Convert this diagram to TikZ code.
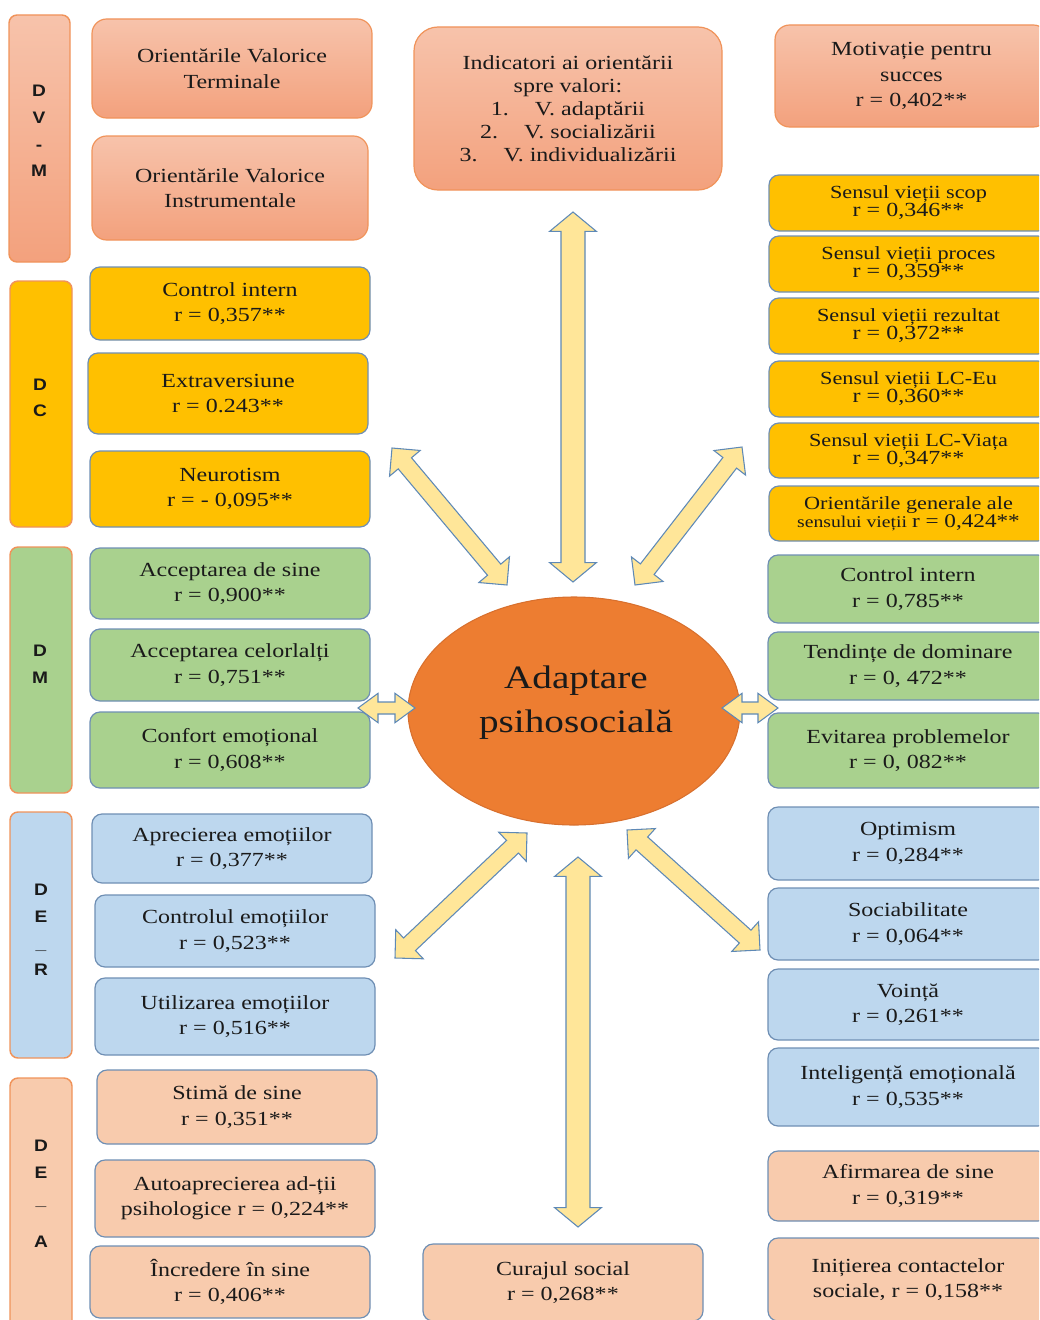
\documentclass[tikz,border=0pt]{standalone}
\usepackage{fontspec}
\setmainfont{Liberation Serif}[FakeStretch=1.2]
\newfontfamily\lblfont{Liberation Sans}[FakeStretch=1.15]
\usetikzlibrary{shapes.geometric,calc}

\definecolor{salmonT}{HTML}{F7C3AB}
\definecolor{salmonB}{HTML}{F3A17D}
\definecolor{orangeline}{HTML}{F0935A}
\definecolor{gold}{HTML}{FFC000}
\definecolor{leaf}{HTML}{A9D18E}
\definecolor{sky}{HTML}{BDD7EE}
\definecolor{peach}{HTML}{F8CBAD}
\definecolor{steel}{HTML}{6F8FB4}
\definecolor{arrowfill}{HTML}{FFE699}
\definecolor{arrowline}{HTML}{5E89B6}
\definecolor{corefill}{HTML}{ED7D31}
\definecolor{coreline}{HTML}{D8702E}
\definecolor{ink}{HTML}{1A1A1A}

% rectangle node given by its corners (in px units) and its text
\newcommand\bx[7]{%
  \node[#2, minimum width={(#5-#3)*0.75pt}, minimum height={(#6-#4)*0.75pt}]
    (#1) at ({(#3+#5)/2},{(#4+#6)/2}) {#7};}

% two-headed block arrow between two named coordinates:
% #3 half shaft width, #4 half head width, #5 head length
\newcommand\dblarrow[5]{%
  \coordinate (h1) at ($(#1)!#5!(#2)$);
  \coordinate (h2) at ($(#2)!#5!(#1)$);
  \draw[blockarrow] (#1) -- ($(h1)!#4!90:(#2)$) -- ($(h1)!#3!90:(#2)$)
    -- ($(h2)!#3!-90:(#1)$) -- ($(h2)!#4!-90:(#1)$) -- (#2)
    -- ($(h2)!#4!90:(#1)$) -- ($(h2)!#3!90:(#1)$)
    -- ($(h1)!#3!-90:(#2)$) -- ($(h1)!#4!-90:(#2)$) -- cycle;}

\newcommand\rbig{\fontsize{15}{13.5}\selectfont}

\tikzset{
  cell/.style={draw=steel, line width=0.9pt, rounded corners=7.5pt, align=center,
    inner sep=0pt, text=ink, font=\fontsize{15}{19}\selectfont},
  salmonbox/.style={cell, draw=orangeline, top color=salmonT, bottom color=salmonB, rounded corners=11pt},
  goldbox/.style={cell, fill=gold},
  goldright/.style={cell, fill=gold, font=\fontsize{13.9}{13.5}\selectfont},
  leafbox/.style={cell, fill=leaf},
  skybox/.style={cell, fill=sky},
  peachbox/.style={cell, fill=peach},
  sidebar/.style={draw=orangeline, line width=1.1pt, rounded corners=6pt, inner sep=0pt},
  sidetext/.style={font=\lblfont\bfseries\fontsize{12.5}{20}\selectfont, align=center,
    text=ink, inner sep=0pt},
  blockarrow/.style={fill=arrowfill, draw=arrowline, line width=0.8pt, line join=miter},
}

\begin{document}
\begin{tikzpicture}[x=0.75pt, y=-0.75pt]
\useasboundingbox (0,0) rectangle (1039,1320);
\clip (0,0) rectangle (1039,1320);

% ---------- side bars with group letters ----------
\bx{dvm}{sidebar, top color=salmonT, bottom color=salmonB}{9}{15}{70}{262}{}
\bx{dc}{sidebar, fill=gold}{10}{281}{72}{527}{}
\bx{dm}{sidebar, fill=leaf}{10}{547}{72}{793}{}
\bx{der}{sidebar, fill=sky}{10}{812}{72}{1058}{}
\bx{dea}{sidebar, fill=peach}{10}{1078}{72}{1345}{}

\node[sidetext] (dvm-t) at (39,131) {D\\V\\-\\M};
\node[sidetext] (dc-t) at (40,398) {D\\C};
\node[sidetext] (dm-t) at (40,664) {D\\M};
\node[sidetext] (der-t) at (41,930) {D\\E\\\_\\R};
\node[sidetext] (dea-t) at (41,1194) {D\\E\\\_\\[12pt]A};

% ---------- left column ----------
\bx{ovt}{salmonbox}{92}{19}{372}{118}{Orientările Valorice\\Terminale}
\bx{ovi}{salmonbox}{92}{136}{368}{240}{Orientările Valorice\\Instrumentale}
\bx{ci}{goldbox}{90}{267}{370}{340}{Control intern\\r = 0,357**}
\bx{ex}{goldbox}{88}{353}{368}{434}{Extraversiune\\r = 0.243**}
\bx{ne}{goldbox}{90}{451}{370}{527}{Neurotism\\r = - 0,095**}
\bx{as}{leafbox}{90}{548}{370}{619}{Acceptarea de sine\\r = 0,900**}
\bx{ac}{leafbox}{90}{629}{370}{701}{Acceptarea celorlalți\\r = 0,751**}
\bx{ce}{leafbox}{90}{712}{370}{788}{Confort emoțional\\r = 0,608**}
\bx{ae}{skybox}{92}{814}{372}{883}{Aprecierea emoțiilor\\r = 0,377**}
\bx{cte}{skybox}{95}{895}{375}{967}{Controlul emoțiilor\\r = 0,523**}
\bx{ue}{skybox}{95}{978}{375}{1055}{Utilizarea emoțiilor\\r = 0,516**}
\bx{ss}{peachbox}{97}{1070}{377}{1144}{Stimă de sine\\r = 0,351**}
\bx{aa}{peachbox}{95}{1160}{375}{1237}{Autoaprecierea ad-ții\\psihologice r = 0,224**}
\bx{is}{peachbox}{90}{1246}{370}{1318}{Încredere în sine\\r = 0,406**}

% ---------- middle column ----------
\bx{ind}{salmonbox, rounded corners=18pt, font=\fontsize{15}{17.3}\selectfont}{414}{27}{722}{190}
  {Indicatori ai orientării\\spre valori:\\1.\hspace{1.3em}V. adaptării\\2.\hspace{1.3em}V. socializării\\3.\hspace{1.3em}V. individualizării}
\bx{cs}{peachbox}{423}{1244}{703}{1321}{Curajul social\\r = 0,268**}

\node[ellipse, fill=corefill, draw=coreline, line width=0.8pt,
      minimum width={332*0.75pt}, minimum height={228*0.75pt}, inner sep=0pt] (core) at (574,711) {};
\node[align=center, text=ink, font=\fontsize{24.5}{33}\selectfont] (core-t) at (576,703) {Adaptare\\psihosocială};

% ---------- right column ----------
\bx{mot}{salmonbox}{775}{25}{1048}{127}{Motivație pentru\\succes\\r = 0,402**}
\bx{s1}{goldright}{769}{175}{1048}{231}{Sensul vieții scop\\{\rbig r = 0,346**}}
\bx{s2}{goldright}{769}{236}{1048}{292}{Sensul vieții proces\\{\rbig r = 0,359**}}
\bx{s3}{goldright}{769}{298}{1048}{354}{Sensul vieții rezultat\\{\rbig r = 0,372**}}
\bx{s4}{goldright}{769}{361}{1048}{417}{Sensul vieții LC-Eu\\{\rbig r = 0,360**}}
\bx{s5}{goldright}{769}{423}{1048}{478}{Sensul vieții LC-Viața\\{\rbig r = 0,347**}}
\bx{s6}{goldright}{769}{486}{1048}{541}{Orientările generale ale\\{\fontsize{12.3}{13.5}\selectfont sensului vieții }{\fontsize{14.5}{13.5}\selectfont r = 0,424**}}
\bx{g1}{leafbox}{768}{555}{1048}{623}{Control intern\\r = 0,785**}
\bx{g2}{leafbox}{768}{632}{1048}{700}{Tendințe de dominare\\r = 0, 472**}
\bx{g3}{leafbox}{768}{713}{1048}{788}{Evitarea problemelor\\r = 0, 082**}
\bx{b1}{skybox}{768}{807}{1048}{880}{Optimism\\r = 0,284**}
\bx{b2}{skybox}{768}{888}{1048}{960}{Sociabilitate\\r = 0,064**}
\bx{b3}{skybox}{768}{969}{1048}{1040}{Voință\\r = 0,261**}
\bx{b4}{skybox}{768}{1048}{1048}{1126}{Inteligență emoțională\\r = 0,535**}
\bx{p1}{peachbox}{768}{1151}{1048}{1221}{Afirmarea de sine\\r = 0,319**}
\bx{p2}{peachbox}{768}{1238}{1048}{1321}{Inițierea contactelor\\sociale, r = 0,158**}

% ---------- arrow end points ----------
\coordinate (tv-a) at (573,212);  \coordinate (tv-b) at (573,582);
\coordinate (tl-a) at (392,448);  \coordinate (tl-b) at (507,585);
\coordinate (tr-a) at (742,447);  \coordinate (tr-b) at (635,585);
\coordinate (lh-a) at (358,708);  \coordinate (lh-b) at (415,708);
\coordinate (rh-a) at (722,708);  \coordinate (rh-b) at (778,708);
\coordinate (bl-a) at (395,958);  \coordinate (bl-b) at (527,833);
\coordinate (br-a) at (627,830);  \coordinate (br-b) at (760,950);
\coordinate (bv-a) at (578,857);  \coordinate (bv-b) at (578,1227);

% ---------- block arrows ----------
\dblarrow{tv-a}{tv-b}{9pt}{17.5pt}{14.5pt}
\dblarrow{bv-a}{bv-b}{9pt}{17.5pt}{14.5pt}
\dblarrow{tl-a}{tl-b}{6.5pt}{15pt}{15pt}
\dblarrow{tr-a}{tr-b}{6.5pt}{15pt}{15pt}
\dblarrow{bl-a}{bl-b}{6.5pt}{15pt}{15pt}
\dblarrow{br-a}{br-b}{6.5pt}{15pt}{15pt}
\dblarrow{lh-a}{lh-b}{4.5pt}{11pt}{15pt}
\dblarrow{rh-a}{rh-b}{4.5pt}{11pt}{15pt}
\end{tikzpicture}
\end{document}
